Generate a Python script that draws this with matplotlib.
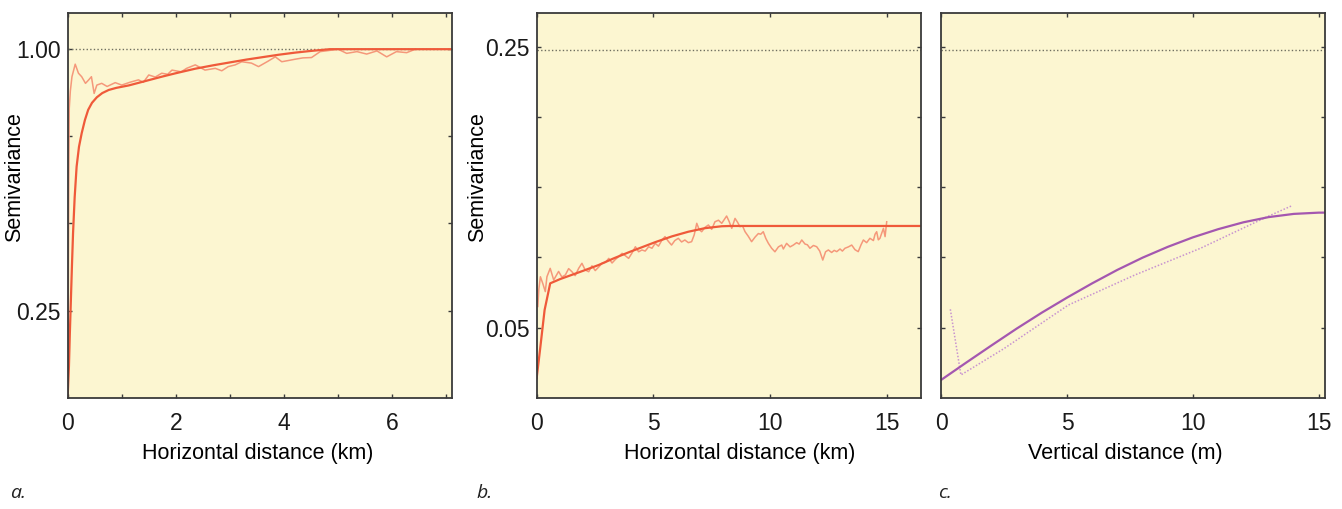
import matplotlib
matplotlib.use("Agg")
import matplotlib.pyplot as plt

plt.rcParams['font.family'] = ['Liberation Sans', 'DejaVu Sans']

# ---- panel a : horizontal semivariogram (km), normalised ----
a_fit_x = [0, 0.012, 0.024, 0.04, 0.06, 0.08, 0.10, 0.13, 0.166, 0.21, 0.26, 0.32, 0.38, 0.45, 0.54, 0.64,
           0.76, 0.9, 1.13, 1.4, 1.74, 2.0, 2.36, 2.7, 3.0, 3.3, 3.6, 3.9, 4.2, 4.5, 4.85, 7.1]
a_fit_y = [0.0, 0.045, 0.089, 0.18, 0.28, 0.38, 0.472, 0.575, 0.663, 0.72, 0.759, 0.797, 0.826, 0.846, 0.862, 0.874,
           0.883, 0.889, 0.896, 0.907, 0.921, 0.931, 0.944, 0.954, 0.962, 0.970, 0.977, 0.984, 0.99, 0.995, 1.0, 1.0]
a_emp_x = [0.005, 0.02, 0.03, 0.05, 0.08, 0.14, 0.2, 0.26, 0.33, 0.39, 0.44, 0.49, 0.54, 0.63, 0.73,
           0.88, 1.0, 1.15, 1.31, 1.4, 1.5, 1.62, 1.74, 1.85, 1.93, 2.1, 2.2, 2.36, 2.54, 2.73,
           2.85, 2.97, 3.1, 3.22, 3.4, 3.53, 3.7, 3.84, 3.96, 4.1, 4.2, 4.35, 4.51, 4.67, 4.82,
           5.0, 5.16, 5.35, 5.53, 5.72, 5.9, 6.08, 6.27, 6.43]
a_emp_y = [0.05, 0.6, 0.83, 0.88, 0.921, 0.957, 0.931, 0.921, 0.902, 0.912, 0.921, 0.873, 0.897, 0.902, 0.893,
           0.904, 0.897, 0.905, 0.912, 0.905, 0.926, 0.92, 0.931, 0.928, 0.94, 0.935, 0.945, 0.955, 0.94, 0.945,
           0.938, 0.95, 0.955, 0.964, 0.96, 0.95, 0.965, 0.978, 0.964, 0.968, 0.971, 0.975, 0.976, 0.993, 0.996,
           1.0, 0.988, 0.993, 0.986, 0.995, 0.978, 0.993, 0.99, 1.0]
a_sill = 1.0

# ---- panel b : horizontal semivariogram (km) ----
b_fit_x = [0, 0.15, 0.34, 0.58, 1.0, 1.5, 2.0, 2.66, 3.3, 4.0, 4.6, 5.07, 5.8, 6.5, 7.2, 7.93, 8.3, 16.5]
b_fit_y = [0.014, 0.035, 0.0625, 0.0815, 0.0845, 0.0875, 0.0905, 0.0946, 0.0993, 0.104, 0.1078, 0.1108,
           0.1150, 0.1183, 0.1208, 0.1222, 0.1224, 0.1224]
b_emp_x = [0.05, 0.09, 0.16, 0.26, 0.37, 0.44, 0.58, 0.73, 0.94, 1.08, 1.23, 1.37, 1.51, 1.65, 1.8,
           1.94, 2.08, 2.23, 2.37, 2.51, 2.65, 2.8, 2.95, 3.09, 3.23, 3.37, 3.51, 3.66, 3.8, 3.94,
           4.08, 4.23, 4.37, 4.51, 4.65, 4.8, 4.94, 5.08, 5.22, 5.37, 5.5, 5.64, 5.78, 5.92, 6.07,
           6.21, 6.35, 6.5, 6.64, 6.75, 6.86, 6.96, 7.07, 7.22, 7.36, 7.5, 7.64, 7.79, 7.93, 8.04,
           8.14, 8.25, 8.36, 8.5, 8.61, 8.71, 8.82, 8.93, 9.07, 9.21, 9.36, 9.5, 9.6, 9.71, 9.82,
           9.93, 10.07, 10.21, 10.36, 10.5, 10.57, 10.71, 10.86, 11.0, 11.14, 11.25, 11.36, 11.5, 11.6, 11.71,
           11.86, 12.0, 12.13, 12.26, 12.38, 12.5, 12.64, 12.75, 12.86, 13.0, 13.1, 13.21, 13.36, 13.5, 13.64,
           13.78, 13.9, 14.0, 14.14, 14.28, 14.43, 14.5, 14.57, 14.64, 14.71, 14.78, 14.86, 14.93, 15.0]
b_emp_y = [0.065, 0.0768, 0.0862, 0.0815, 0.0756, 0.0862, 0.0922, 0.0839, 0.090, 0.086, 0.0875, 0.092, 0.0898, 0.087, 0.0922,
           0.0958, 0.091, 0.0898, 0.094, 0.0906, 0.093, 0.0958, 0.0965, 0.0993, 0.096, 0.0985, 0.1005, 0.1029, 0.1012, 0.0993,
           0.103, 0.1076, 0.104, 0.1053, 0.1045, 0.1076, 0.1065, 0.110, 0.108, 0.1124, 0.1148, 0.1115, 0.1088, 0.112, 0.1136,
           0.111, 0.1124, 0.1105, 0.1112, 0.116, 0.1243, 0.120, 0.1183, 0.1215, 0.1231, 0.120, 0.1254, 0.1265, 0.1243, 0.127,
           0.1295, 0.1255, 0.1207, 0.1278, 0.125, 0.1219, 0.1225, 0.1183, 0.115, 0.1112, 0.1145, 0.117, 0.1165, 0.1183, 0.1135,
           0.110, 0.1065, 0.104, 0.1075, 0.1088, 0.1060, 0.110, 0.1075, 0.1088, 0.1105, 0.1095, 0.1124, 0.1095, 0.109, 0.1065,
           0.1085, 0.1076, 0.1045, 0.0981, 0.1040, 0.1053, 0.1035, 0.105, 0.1041, 0.106, 0.1045, 0.1065, 0.1075, 0.1088, 0.1055,
           0.1041, 0.109, 0.1124, 0.1105, 0.1136, 0.112, 0.1165, 0.1183, 0.1125, 0.1136, 0.117, 0.1207, 0.1148, 0.1254]
b_sill = 0.248

# ---- panel c : vertical semivariogram (m) ----
c_fit_x = [0, 1, 2, 3, 4, 5, 6, 7, 8, 9, 10, 11, 12, 13, 14, 15, 15.24]
c_fit_y = [0.0126, 0.0250, 0.0372, 0.0492, 0.0606, 0.0713, 0.0815, 0.0911, 0.0998, 0.1075, 0.1143,
           0.1201, 0.1250, 0.1287, 0.1310, 0.1319, 0.1319]
c_lin_x = [0.37, 0.79, 2.5, 5.05, 7.7, 10.3, 12.95, 13.9]
c_lin_y = [0.063, 0.0162, 0.035, 0.066, 0.0875, 0.1065, 0.129, 0.1366]
c_sill = 0.248

bg = '#fcf6d1'
fit_col = '#ef5a3a'
emp_col = '#f5987a'
pur = '#a457b0'
pur_light = '#c893d0'
sill_col = '#6f6f60'
spine_col = '#3a3a3a'

fig = plt.figure(figsize=(13.42, 5.09), dpi=100)
ax1 = fig.add_axes([0.0504, 0.2187, 0.2861, 0.7552])
ax2 = fig.add_axes([0.3999, 0.2187, 0.2864, 0.7552])
ax3 = fig.add_axes([0.7012, 0.2187, 0.2861, 0.7552])

for ax in (ax1, ax2, ax3):
    ax.set_facecolor(bg)
    for s in ax.spines.values():
        s.set_color(spine_col)
        s.set_linewidth(1.3)
    ax.tick_params(direction='in', length=3, width=1, color=spine_col,
                   top=True, right=True, labelsize=16.5, colors='#1a1a1a')
    ax.tick_params(axis='x', pad=10)
    ax.tick_params(axis='y', pad=5)

# a
ax1.axhline(a_sill, color=sill_col, ls=(0, (1, 1.6)), lw=1)
ax1.plot(a_emp_x, a_emp_y, color=emp_col, lw=1.1)
ax1.plot(a_fit_x, a_fit_y, color=fit_col, lw=1.6)
ax1.set_xlim(0, 7.1)
ax1.set_ylim(0, 1.103)
ax1.set_xticks(range(0, 8))
ax1.set_xticklabels(['0', '', '2', '', '4', '', '6', ''])
ax1.set_yticks([0.25, 0.5, 0.75, 1.0])
ax1.set_yticklabels(['0.25', '', '', '1.00'])
ax1.set_xlabel('Horizontal distance (km)', fontsize=15.5)
ax1.set_ylabel('Semivariance', fontsize=15.5)
ax1.xaxis.set_label_coords(0.496, -0.117)
ax1.yaxis.set_label_coords(-0.111, 0.574)

# b
ax2.axhline(b_sill, color=sill_col, ls=(0, (1, 1.6)), lw=1)
ax2.plot(b_emp_x, b_emp_y, color=emp_col, lw=1.1)
ax2.plot(b_fit_x, b_fit_y, color=fit_col, lw=1.6)
ax2.set_xlim(0, 16.47)
ax2.set_ylim(0, 0.274)
ax2.set_xticks([0, 5, 10, 15])
ax2.set_yticks([0.05, 0.10, 0.15, 0.20, 0.25])
ax2.set_yticklabels(['0.05', '', '', '', '0.25'])
ax2.set_xlabel('Horizontal distance (km)', fontsize=15.5)
ax2.set_ylabel('Semivariance', fontsize=15.5)
ax2.xaxis.set_label_coords(0.529, -0.117)
ax2.yaxis.set_label_coords(-0.127, 0.574)

# c
ax3.axhline(c_sill, color=sill_col, ls=(0, (1, 1.6)), lw=1)
ax3.plot(c_lin_x, c_lin_y, color=pur_light, ls=(0, (1, 1.2)), lw=1.1)
ax3.plot(c_fit_x, c_fit_y, color=pur, lw=1.6)
ax3.set_xlim(0, 15.24)
ax3.set_ylim(0, 0.274)
ax3.set_xticks([0, 5, 10, 15])
ax3.set_yticks([0.05, 0.10, 0.15, 0.20, 0.25])
ax3.set_yticklabels([])
ax3.set_xlabel('Vertical distance (m)', fontsize=15.5)
ax3.xaxis.set_label_coords(0.481, -0.117)

# panel letters
for xp, lab in [(10, 'a.'), (476, 'b.'), (938, 'c.')]:
    fig.text(xp / 1342, 1 - 493 / 509, lab, fontsize=14, style='italic',
             family=['Open Sans', 'DejaVu Sans'], color='#222222', va='center')

fig.savefig('out.png', dpi=100)
